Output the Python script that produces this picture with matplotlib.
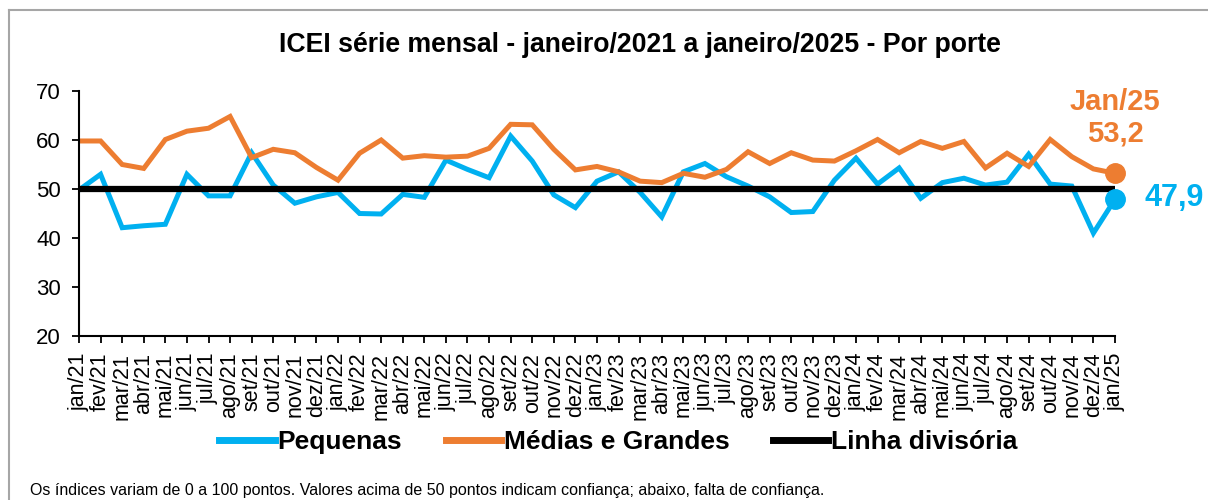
import matplotlib.pyplot as plt
from matplotlib.lines import Line2D

plt.rcParams['font.family'] = ['Liberation Sans', 'DejaVu Sans']

meses = ['jan', 'fev', 'mar', 'abr', 'mai', 'jun', 'jul', 'ago', 'set', 'out', 'nov', 'dez']
labels = [f'{m}/{a}' for a in range(21, 25) for m in meses] + ['jan/25']

pequenas = [49.8, 53.0, 42.1, 42.5, 42.8, 53.0, 48.6, 48.6, 57.4, 50.8, 47.1, 48.4,
            49.3, 45.0, 44.9, 48.9, 48.3, 55.9, 54.0, 52.3, 60.8, 55.7, 48.8, 46.2,
            51.6, 53.5, 49.3, 44.3, 53.5, 55.2, 52.5, 50.6, 48.4, 45.2, 45.4, 51.8,
            56.3, 51.0, 54.3, 48.1, 51.3, 52.2, 50.8, 51.4, 57.1, 51.0, 50.6, 41.0,
            47.9]
medias_grandes = [59.8, 59.8, 55.0, 54.2, 60.1, 61.8, 62.4, 64.8, 56.4, 58.1, 57.4, 54.4,
                  51.8, 57.3, 60.0, 56.3, 56.8, 56.5, 56.7, 58.3, 63.2, 63.1, 58.1, 53.9,
                  54.6, 53.5, 51.6, 51.3, 53.2, 52.4, 54.0, 57.6, 55.2, 57.4, 55.9, 55.7,
                  57.8, 60.1, 57.4, 59.7, 58.3, 59.7, 54.3, 57.3, 54.6, 60.1, 56.6, 54.1,
                  53.2]
divisoria = [50] * len(labels)

azul = '#00B0F0'
laranja = '#ED7D31'

fig = plt.figure(figsize=(12.08, 5.0), dpi=100)
ax = fig.add_axes([0.0654, 0.328, 0.8576, 0.49])

x = list(range(len(labels)))
ax.plot(x, pequenas, color=azul, lw=3.6, solid_joinstyle='miter', label='Pequenas')
ax.plot(x, medias_grandes, color=laranja, lw=3.6, solid_joinstyle='miter', label='Médias e Grandes')
ax.plot(x, divisoria, color='black', lw=4.5, label='Linha divisória')

ax.plot(x[-1], pequenas[-1], 'o', color=azul, ms=14, clip_on=False, zorder=5)
ax.plot(x[-1], medias_grandes[-1], 'o', color=laranja, ms=14, clip_on=False, zorder=5)

ax.text(x[-1], 67.8, 'Jan/25', color=laranja, fontsize=21, fontweight='bold', ha='center', va='center')
ax.text(x[-1], 61.3, '53,2', color=laranja, fontsize=21, fontweight='bold', ha='center', va='center')
ax.text(x[-1] + 2.72, pequenas[-1] + 0.3, '47,9', color=azul, fontsize=22, fontweight='bold',
        ha='center', va='center')

ax.set_xlim(0, 48)
ax.set_ylim(20, 70)
ax.set_yticks(range(20, 71, 10))
ax.set_xticks(x)
ax.set_xticklabels(labels, rotation=90, fontsize=15.5)
ax.tick_params(axis='y', labelsize=16, length=5, width=1.3, direction='out', pad=8)
ax.tick_params(axis='x', length=5, width=1.3, direction='out', pad=7)
for s in ['top', 'right']:
    ax.spines[s].set_visible(False)
for s in ['left', 'bottom']:
    ax.spines[s].set_linewidth(1.5)

fig.text(0.53, 0.91, 'ICEI série mensal - janeiro/2021 a janeiro/2025 - Por porte',
         fontsize=19.2, fontweight='bold', ha='center', va='center')

handles = [Line2D([0], [0], color=azul, lw=5),
           Line2D([0], [0], color=laranja, lw=5),
           Line2D([0], [0], color='black', lw=5)]
fig.legend(handles, ['Pequenas', 'Médias e Grandes', 'Linha divisória'],
           loc='center', bbox_to_anchor=(0.512, 0.116), ncol=3, frameon=False,
           prop={'size': 19, 'weight': 'bold'}, handlelength=2.1, handletextpad=0.1,
           columnspacing=1.65)

fig.text(0.025, 0.02, 'Os índices variam de 0 a 100 pontos. Valores acima de 50 pontos indicam '
         'confiança; abaixo, falta de confiança.', fontsize=11.5, ha='left', va='center')

# borda cinza do quadro
fig.add_artist(Line2D([0.0075, 0.0075], [0, 0.98], color='#A6A6A6', lw=1.5))
fig.add_artist(Line2D([0.0075, 1.0], [0.98, 0.98], color='#A6A6A6', lw=1.5))

fig.savefig('out.png', dpi=100)
